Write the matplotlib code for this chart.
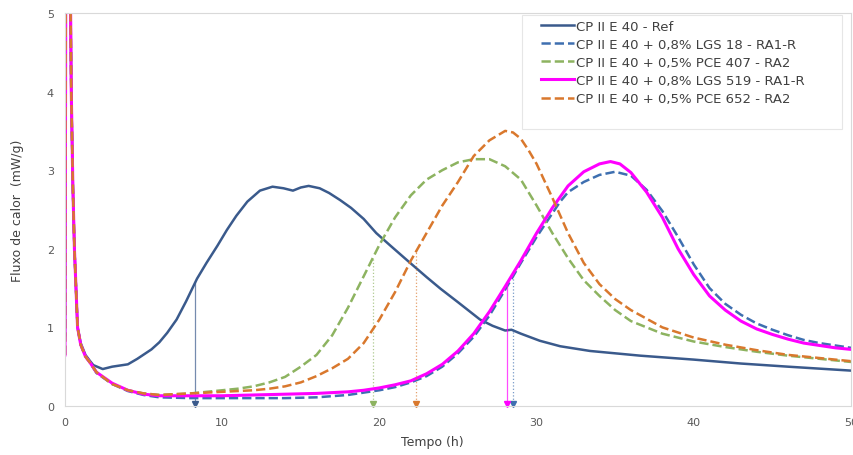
import matplotlib.pyplot as plt
from matplotlib.patches import Rectangle
import numpy as np

# time (h) and heat flow (mW/g)
spike_t = [0.0, 0.08, 0.35, 0.4, 0.5, 0.6, 0.8, 1.0, 1.3, 1.6]
spike_ref = [0.9, 8.0, 5.2, 4.0, 2.8, 2.0, 1.0, 0.8, 0.65, 0.57]
spike_add = [0.65, 8.0, 5.2, 4.0, 2.8, 2.0, 1.0, 0.78, 0.63, 0.55]

t_ref = [1.8, 2.4, 3, 4, 4.6, 5.5, 6, 6.5, 7.1, 7.7, 8.4, 9, 9.7, 10.3, 10.9, 11.6,
         12.4, 13.2, 13.9, 14.5, 15, 15.5, 16.2, 16.8, 17.5, 18.2, 19, 19.8, 20.7,
         21.9, 23, 23.9, 25, 26.4, 27.2, 28, 28.4, 29, 30.2, 31.5, 33.4, 36.6, 40,
         43, 46, 50]
y_ref = [0.52, 0.47, 0.5, 0.53, 0.6, 0.72, 0.81, 0.93, 1.1, 1.33, 1.62, 1.82, 2.04,
         2.24, 2.42, 2.6, 2.74, 2.79, 2.77, 2.74, 2.78, 2.8, 2.77, 2.71, 2.62, 2.52,
         2.38, 2.2, 2.04, 1.83, 1.64, 1.49, 1.32, 1.1, 1.02, 0.96, 0.97, 0.92, 0.83,
         0.76, 0.70, 0.64, 0.59, 0.54, 0.5, 0.45]

t_lgs18 = [2, 3, 4, 5, 6, 8, 10, 12, 14, 16, 18, 19, 20, 21, 22, 23, 24, 25, 26, 27,
           28, 28.5, 29, 30, 31, 31.5, 32, 33, 34, 35, 36, 37, 38, 39, 40, 41, 42,
           43, 44, 45, 46, 47, 48, 49, 50]
y_lgs18 = [0.42, 0.28, 0.19, 0.14, 0.11, 0.1, 0.1, 0.1, 0.1, 0.11, 0.14, 0.17, 0.2,
           0.24, 0.3, 0.38, 0.5, 0.67, 0.88, 1.15, 1.48, 1.65, 1.82, 2.15, 2.45, 2.6,
           2.72, 2.85, 2.94, 2.98, 2.93, 2.75, 2.48, 2.15, 1.8, 1.5, 1.3, 1.16, 1.05,
           0.97, 0.9, 0.84, 0.8, 0.77, 0.74]

t_pce407 = [2, 3, 4, 5, 6, 7, 8, 9, 10, 11, 12, 13, 14, 15, 16, 17, 18, 19, 20, 21,
            22, 23, 24, 25, 26, 27, 28, 29, 30, 31, 32, 33, 34, 35, 36, 38, 40, 42,
            44, 46, 48, 50]
y_pce407 = [0.43, 0.28, 0.2, 0.16, 0.14, 0.15, 0.16, 0.18, 0.2, 0.22, 0.25, 0.3,
            0.37, 0.5, 0.65, 0.9, 1.25, 1.65, 2.05, 2.4, 2.68, 2.88, 3.0, 3.1, 3.14,
            3.14, 3.05, 2.88, 2.55, 2.2, 1.88, 1.6, 1.4, 1.22, 1.08, 0.92, 0.82,
            0.75, 0.69, 0.64, 0.6, 0.56]

t_lgs519 = [2, 3, 4, 5, 6, 8, 10, 12, 14, 16, 18, 19, 20, 21, 22, 23, 24, 25, 26,
            27, 28, 29, 30, 31, 32, 33, 34, 34.7, 35.3, 36, 37, 38, 39, 40, 41, 42,
            43, 44, 45, 46, 47, 48, 49, 50]
y_lgs519 = [0.43, 0.29, 0.2, 0.15, 0.13, 0.13, 0.13, 0.14, 0.15, 0.16, 0.18, 0.2,
            0.23, 0.27, 0.32, 0.41, 0.53, 0.7, 0.92, 1.2, 1.52, 1.85, 2.2, 2.52, 2.8,
            2.98, 3.08, 3.11, 3.08, 2.97, 2.72, 2.4, 2.0, 1.67, 1.4, 1.22, 1.08,
            0.98, 0.91, 0.85, 0.8, 0.77, 0.74, 0.72]

t_pce652 = [2, 3, 4, 5, 6, 7, 8, 9, 10, 11, 12, 13, 14, 15, 16, 17, 18, 19, 20, 21,
            22, 23, 24, 25, 26, 27, 28, 28.5, 29, 29.5, 30, 31, 32, 33, 34, 35, 36,
            38, 40, 42, 44, 46, 48, 50]
y_pce652 = [0.43, 0.28, 0.2, 0.16, 0.14, 0.15, 0.16, 0.17, 0.18, 0.19, 0.2, 0.22,
            0.25, 0.3, 0.38, 0.48, 0.6, 0.8, 1.1, 1.45, 1.85, 2.2, 2.55, 2.85, 3.18,
            3.38, 3.5, 3.48, 3.4, 3.25, 3.08, 2.65, 2.2, 1.82, 1.55, 1.36, 1.22, 1.0,
            0.87, 0.78, 0.71, 0.65, 0.61, 0.57]

labels = ["CP II E 40 - Ref",
          "CP II E 40 + 0,8% LGS 18 - RA1-R",
          "CP II E 40 + 0,5% PCE 407 - RA2",
          "CP II E 40 + 0,8% LGS 519 - RA1-R",
          "CP II E 40 + 0,5% PCE 652 - RA2"]

# times marked with vertical lines at the base
t_marks = [8.3, 28.5, 19.6, 28.1, 22.3]

colors = ["#3A5A8C", "#3E6FB0", "#8DB360", "#FF00FF", "#D9782D"]
styles = ["-", "--", "--", "-", "--"]
widths = [1.8, 1.8, 1.8, 2.2, 1.8]

series = [
    (spike_t + t_ref, spike_ref + y_ref),
    (spike_t + t_lgs18, spike_add + y_lgs18),
    (spike_t + t_pce407, spike_add + y_pce407),
    (spike_t + t_lgs519, spike_add + y_lgs519),
    (spike_t + t_pce652, spike_add + y_pce652),
]

fig = plt.figure(figsize=(8.54, 4.56), dpi=100)
ax = fig.add_axes([0.0761, 0.1075, 0.9204, 0.8618])

for (t, y), lab, c, ls, lw, tm in zip(series, labels, colors, styles, widths, t_marks):
    ax.plot(t, y, color=c, linestyle=ls, linewidth=lw, label=lab)
    top = np.interp(tm, t, y)
    ax.vlines(tm, 0, top, colors=c, linestyles=":" if ls == "--" else "-",
              linewidth=0.9, alpha=0.7)
    ax.plot([tm], [0.02], marker="v", color=c, markersize=4, clip_on=False)

ax.set_xlim(0, 50)
ax.set_ylim(0, 5)
ax.set_xticks([0, 10, 20, 30, 40, 50])
ax.set_yticks([0, 1, 2, 3, 4, 5])
ax.tick_params(length=0, labelsize=8, colors="#595959", pad=8)
for s in ax.spines.values():
    s.set_color("#d9d9d9")
    s.set_linewidth(0.8)

ax.set_xlabel("Tempo (h)", fontsize=9, color="#404040")
ax.xaxis.set_label_coords(0.467, -0.075)
ax.set_ylabel("Fluxo de calor  (mW/g)", fontsize=9, color="#404040")
ax.yaxis.set_label_coords(-0.052, 0.5)

# faint legend box, like the spreadsheet one
ax.add_patch(Rectangle((0.581, 0.705), 0.408, 0.29, transform=ax.transAxes,
                       facecolor="white", edgecolor="#e6e6e6", linewidth=0.8,
                       zorder=4))
leg = ax.legend(loc="upper left", bbox_to_anchor=(0.606, 0.982), fontsize=9.5,
                frameon=False, handlelength=2.5, handletextpad=0.1,
                labelspacing=0.38, borderpad=0, borderaxespad=0)
leg.set_zorder(5)
for txt in leg.get_texts():
    txt.set_color("#404040")

fig.savefig("out.png", dpi=100)
